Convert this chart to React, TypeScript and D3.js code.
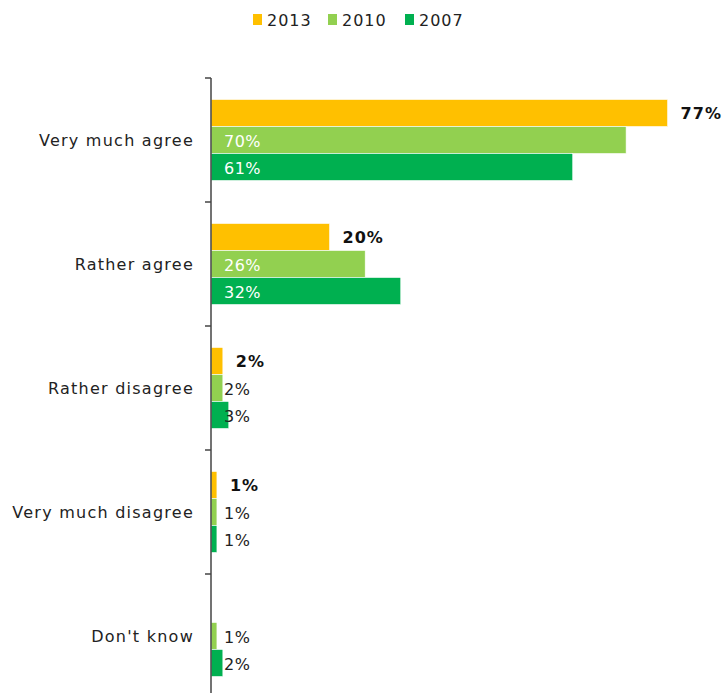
import React from "react";
import * as d3 from "d3";

const categories = ["Very much agree", "Rather agree", "Rather disagree", "Very much disagree", "Don't know"];
const seriesNames = ["2013", "2010", "2007"];
const values2013: (number | null)[] = [77, 20, 2, 1, null];
const values2010: (number | null)[] = [70, 26, 2, 1, 1];
const values2007: (number | null)[] = [61, 32, 3, 1, 2];
const colors = ["#FFC000", "#92D050", "#00B050"];

const W = 726;
const H = 693;
const axisX = 211;
const top = 78;
const step = 124;
const font = "'DejaVu Sans', Verdana, sans-serif";

export default function App() {
  const series = [values2013, values2010, values2007];
  const x = d3.scaleLinear().domain([0, 80]).range([axisX, axisX + 80 * 5.93]);
  const y = d3.scaleBand<string>().domain(categories).range([top, top + step * categories.length]).padding(0);
  const groupH = 81;
  const sub = d3.scaleBand<string>().domain(seriesNames).range([(step - groupH) / 2, (step + groupH) / 2]).padding(0);

  return (
    <svg width={W} height={H} style={{ position: "absolute", left: 0, top: 0, background: "#fff" }}>
      {/* legend */}
      {seriesNames.map((s, i) => {
        const lx = [253, 328, 405][i];
        return (
          <g key={s}>
            <rect x={lx} y={14} width={9} height={11} fill={colors[i]} />
            <text x={lx + 14} y={26} fontFamily={font} fontSize={16} letterSpacing={1} fill="#222">{s}</text>
          </g>
        );
      })}
      {/* bars */}
      {categories.map((c, ci) => (
        <g key={c}>
          {series.map((vals, si) => {
            const v = vals[ci];
            if (v == null) return null;
            const by = (y(c) as number) + (sub(seriesNames[si]) as number);
            const bh = sub.bandwidth();
            return (
              <g key={si}>
                <rect x={x(0)} y={by} width={x(v) - x(0)} height={bh} fill={colors[si]} stroke="#fff" strokeWidth={0.6} />
                {si === 0 ? (
                  <text x={x(v) + 13} y={by + bh / 2 + 6} fontFamily={font} fontSize={16} fontWeight="bold" letterSpacing={1} fill="#111">{v}%</text>
                ) : (
                  <text x={axisX + 13} y={by + bh / 2 + 7} fontFamily={font} fontSize={16} letterSpacing={0.5} fill={v >= 10 ? "#fff" : "#222"}>{v}%</text>
                )}
              </g>
            );
          })}
          <text x={194} y={(y(c) as number) + step / 2 + 6} textAnchor="end" fontFamily={font} fontSize={16} letterSpacing={1.25} fill="#222">{c}</text>
        </g>
      ))}
      {/* axis */}
      <line x1={axisX} x2={axisX} y1={top} y2={H + 10} stroke="#444" strokeWidth={1.5} />
      {d3.range(categories.length + 1).map((i) => (
        <line key={i} x1={axisX - 6} x2={axisX} y1={top + i * step} y2={top + i * step} stroke="#444" strokeWidth={1.5} />
      ))}
    </svg>
  );
}
